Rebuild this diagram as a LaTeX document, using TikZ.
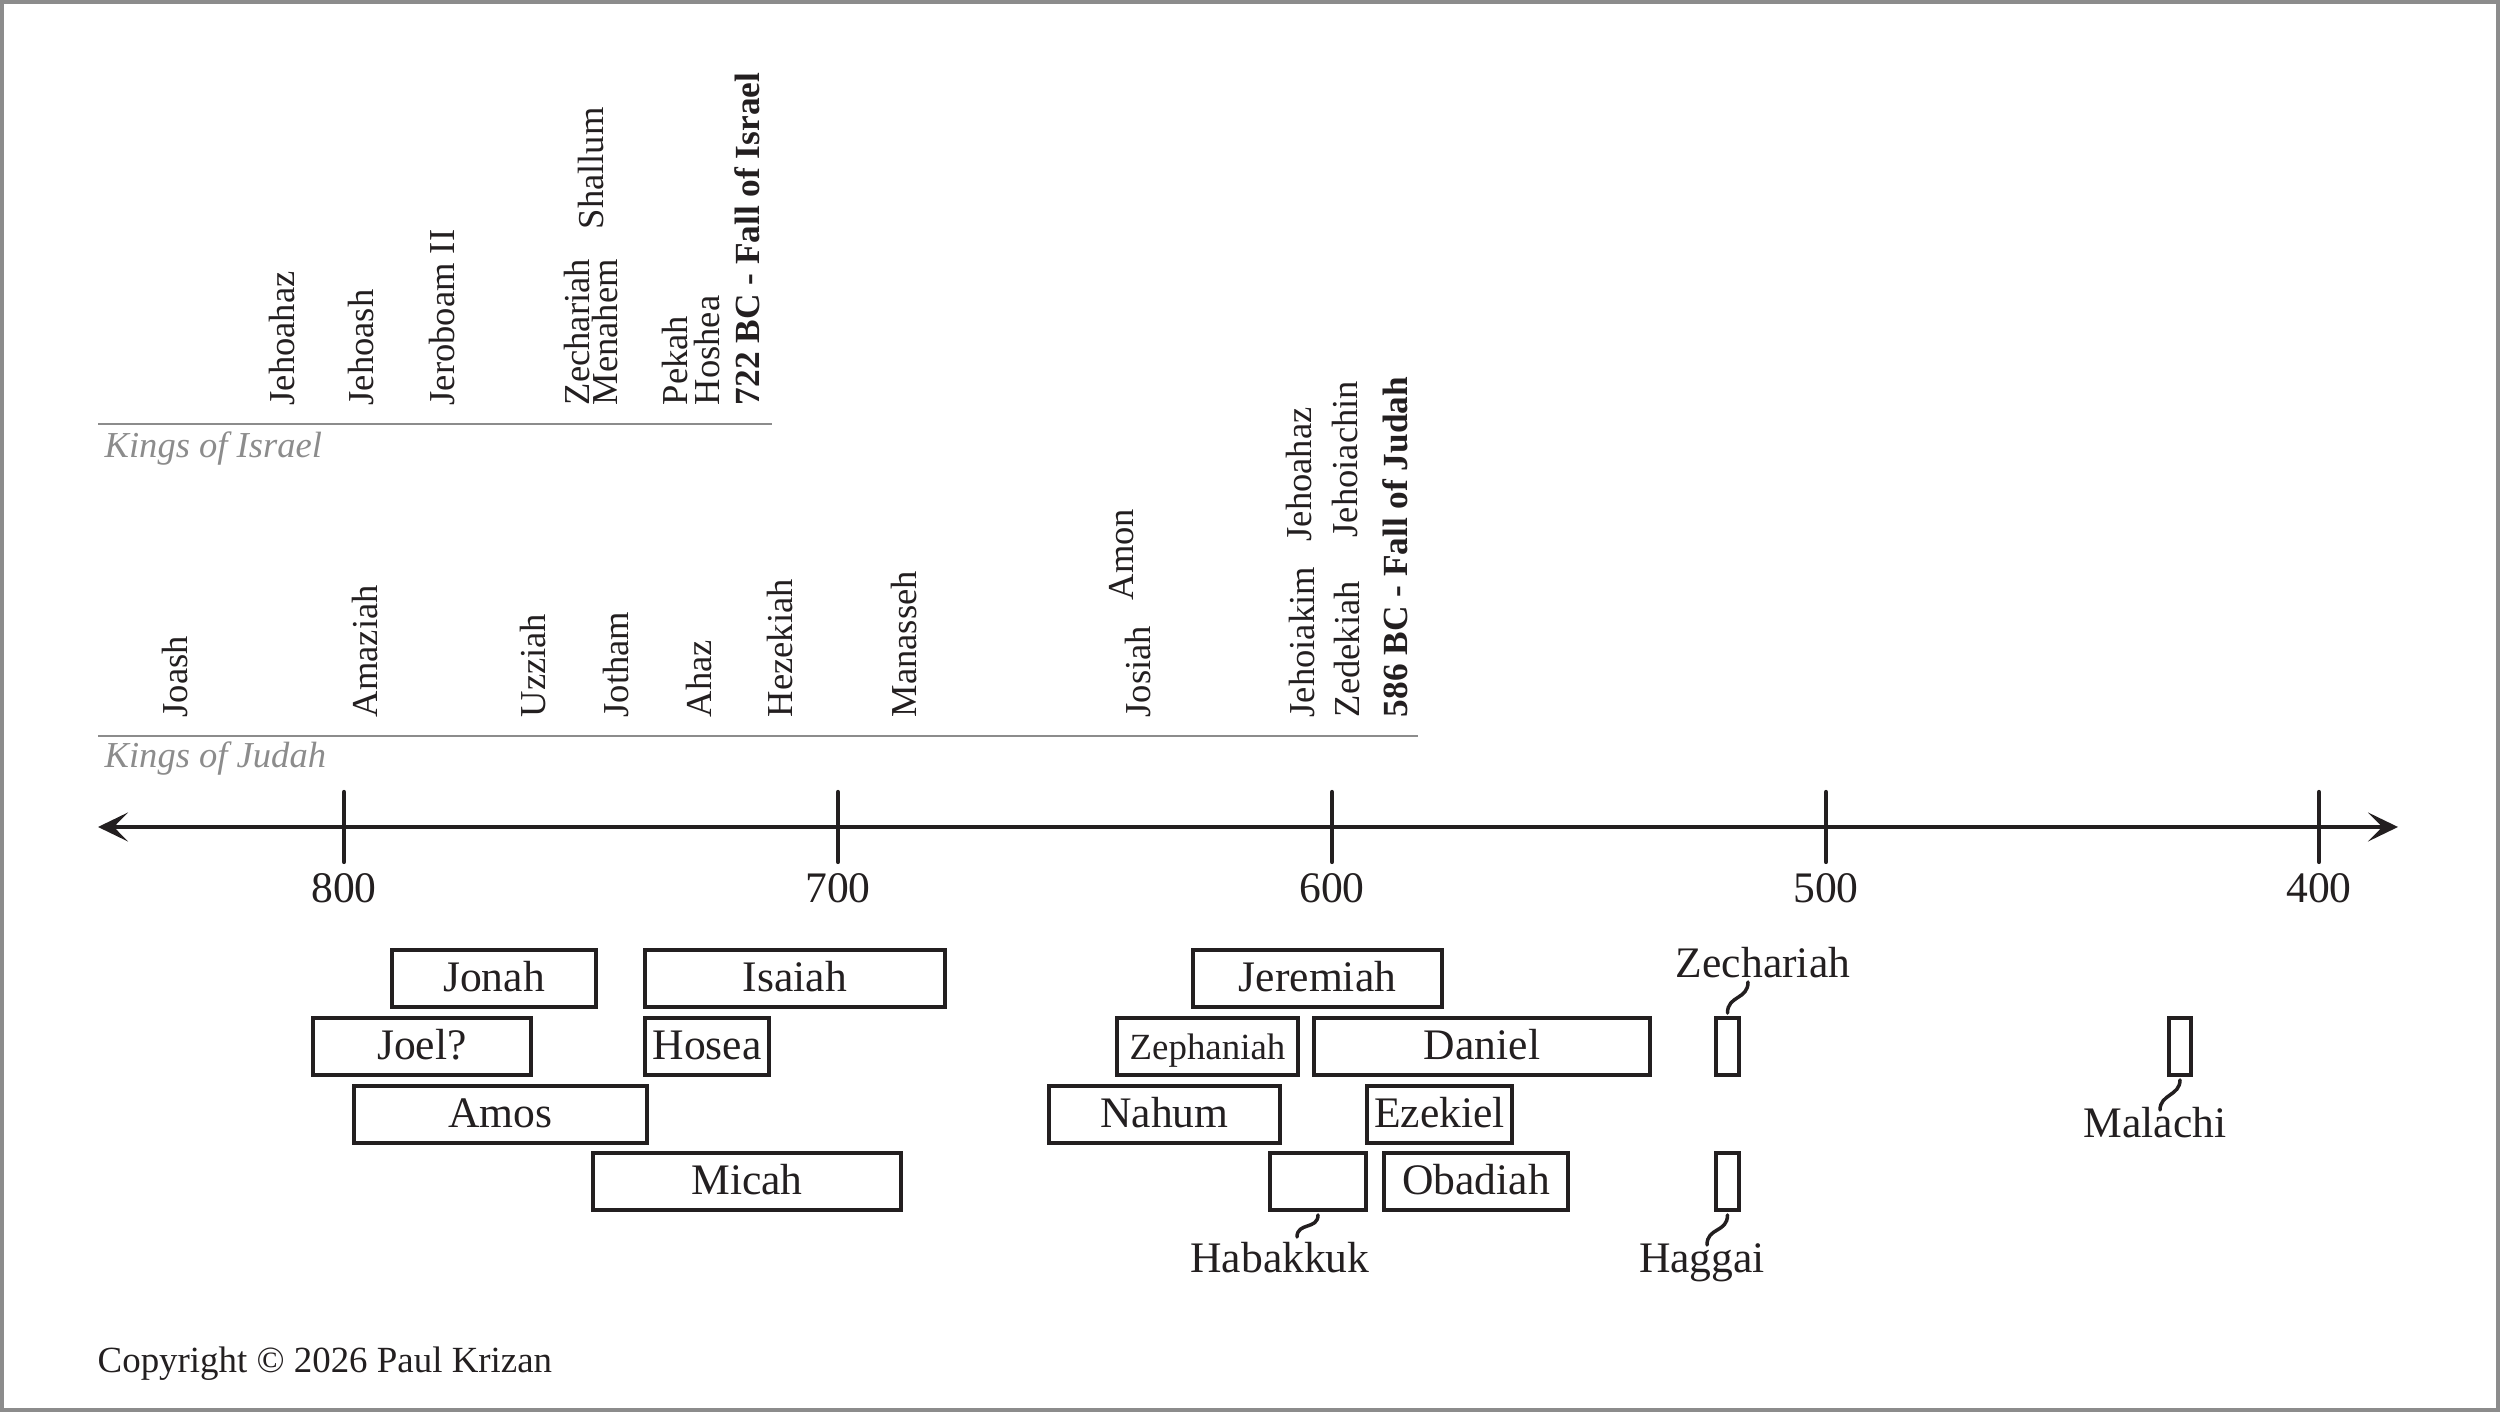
\documentclass[tikz,border=0pt]{standalone}
\usepackage{fontspec}
\setmainfont{Liberation Serif}
\usetikzlibrary{arrows.meta}

\definecolor{ink}{HTML}{231F20}
\definecolor{linegray}{gray}{0.55}

\tikzset{
  king/.style={rotate=90, anchor=base west, inner sep=0pt, text=ink, font=\fontsize{10.4}{12}\selectfont},
  fall/.style={king, font=\fontsize{10.05}{12}\selectfont\bfseries},
  kinglabel/.style={anchor=base west, inner sep=0pt, text=linegray, font=\fontsize{10.4}{12}\selectfont\itshape},
  prophet/.style={draw=ink, line width=1.1pt, inner sep=0pt, minimum height=0.57cm,
    text height=0.35cm, text depth=0.08cm, text=ink, font=\fontsize{12.4}{14}\selectfont},
  plabel/.style={anchor=base, inner sep=0pt, text=ink, font=\fontsize{12.4}{14}\selectfont},
  squiggle/.style={draw=ink, line width=1pt, line cap=round},
  >={Stealth[length=8.5pt,width=8.2pt,inset=4pt]}
}

\begin{document}
\begin{tikzpicture}
\useasboundingbox (0,0) rectangle (25,14.12);
\draw[linegray, line width=0.04cm] (0.02,0.02) rectangle (24.98,14.10);

% time line
\draw[ink, line width=1.2pt, <->] (0.98,5.85) -- (23.98,5.85);
\foreach \yr/\x in {800/3.44,700/8.38,600/13.32,500/18.26,400/23.19} {
\draw[ink, line width=1.2pt, line cap=round] (\x,6.20) -- (\x,5.50);
\node[plabel] (yr\yr) at (\x,5.09) {\yr};
}

% kings of israel
\draw[linegray, line width=0.8pt] (0.98,9.88) -- (7.72,9.88);
\node[kinglabel] (israel) at (1.04,9.54) {Kings of Israel};

\node[king] (i-jehoahaz) at (2.94,10.06) {Jehoahaz};
\node[king] (i-jehoash) at (3.73,10.06) {Jehoash};
\node[king] (i-jeroboam) at (4.54,10.06) {Jeroboam II};
\node[king] (i-zechariah) at (5.89,10.06) {Zechariah};
\node[king] (i-shallum) at (6.03,11.82) {Shallum};
\node[king] (i-menahem) at (6.17,10.06) {Menahem};
\node[king] (i-pekah) at (6.87,10.06) {Pekah};
\node[king] (i-hoshea) at (7.19,10.06) {Hoshea};
\node[fall] (i-fall) at (7.59,10.06) {722 BC - Fall of Israel};

% kings of judah
\draw[linegray, line width=0.8pt] (0.98,6.76) -- (14.18,6.76);
\node[kinglabel] (judah) at (1.04,6.44) {Kings of Judah};

\node[king] (j-joash) at (1.87,6.94) {Joash};
\node[king] (j-amaziah) at (3.77,6.94) {Amaziah};
\node[king] (j-uzziah) at (5.45,6.94) {Uzziah};
\node[king] (j-jotham) at (6.28,6.94) {Jotham};
\node[king] (j-ahaz) at (7.11,6.94) {Ahaz};
\node[king] (j-hezekiah) at (7.92,6.94) {Hezekiah};
\node[king] (j-manasseh) at (9.16,6.94) {Manasseh};
\node[king] (j-amon) at (11.33,8.11) {Amon};
\node[king] (j-josiah) at (11.50,6.94) {Josiah};
\node[king] (j-jehoahaz) at (13.11,8.70) {Jehoahaz};
\node[king] (j-jehoiakim) at (13.14,6.94) {Jehoiakim};
\node[king] (j-jehoiachin) at (13.57,8.74) {Jehoiachin};
\node[king] (j-zedekiah) at (13.59,6.94) {Zedekiah};
\node[fall] (j-fall) at (14.07,6.94) {586 BC - Fall of Judah};

% prophets
\node[prophet, minimum width=2.04cm] (jonah) at (4.94,4.335) {Jonah};
\node[prophet, minimum width=3.00cm] (isaiah) at (7.95,4.335) {Isaiah};
\node[prophet, minimum width=2.18cm] (joel) at (4.22,3.655) {Joel?};
\node[prophet, minimum width=1.24cm] (hosea) at (7.07,3.655) {Hosea};
\node[prophet, minimum width=2.93cm] (amos) at (5.005,2.975) {Amos};
\node[prophet, minimum width=3.08cm] (micah) at (7.47,2.305) {Micah};

\node[prophet, minimum width=2.49cm] (jeremiah) at (13.175,4.335) {Jeremiah};
\node[prophet, minimum width=1.81cm, font=\fontsize{10.5}{12}\selectfont] (zephaniah) at (12.075,3.655) {Zephaniah};
\node[prophet, minimum width=3.36cm] (daniel) at (14.82,3.655) {Daniel};
\node[prophet, minimum width=2.31cm] (nahum) at (11.645,2.975) {Nahum};
\node[prophet, minimum width=1.45cm] (ezekiel) at (14.395,2.975) {Ezekiel};
\node[prophet, minimum width=0.96cm] (habbox) at (13.18,2.305) {};
\node[prophet, minimum width=1.84cm] (obadiah) at (14.76,2.305) {Obadiah};

\node[prophet, minimum width=0.23cm] (zechbox) at (17.275,3.655) {};
\node[prophet, minimum width=0.23cm] (hagbox) at (17.275,2.305) {};
\node[prophet, minimum width=0.22cm] (malbox) at (21.80,3.655) {};

\node[plabel] (habakkuk) at (12.80,1.39) {Habakkuk};
\node[plabel] (haggai) at (17.02,1.39) {Haggai};
\node[plabel] (zechariah) at (17.63,4.34) {Zechariah};
\node[plabel] (malachi) at (21.55,2.74) {Malachi};

\coordinate (habend) at (12.97,1.75);
\coordinate (hagend) at (17.07,1.67);
\coordinate (zechend) at (17.48,4.30);
\coordinate (malend) at (21.60,3.02);

\draw[squiggle] ([yshift=-0.03cm]habbox.south) .. controls +(0,-0.15) and +(0,0.15) .. (habend);
\draw[squiggle] ([yshift=-0.03cm]hagbox.south) .. controls +(0,-0.18) and +(0,0.18) .. (hagend);
\draw[squiggle] ([yshift=0.03cm]zechbox.north) .. controls +(0,0.18) and +(0,-0.18) .. (zechend);
\draw[squiggle] ([yshift=-0.03cm]malbox.south) .. controls +(0,-0.16) and +(0,0.16) .. (malend);

\node[anchor=base west, inner sep=0pt, text=ink, font=\fontsize{10.5}{12}\selectfont] (copyright) at (0.97,0.39) {Copyright © 2026 Paul Krizan};

\end{tikzpicture}
\end{document}
